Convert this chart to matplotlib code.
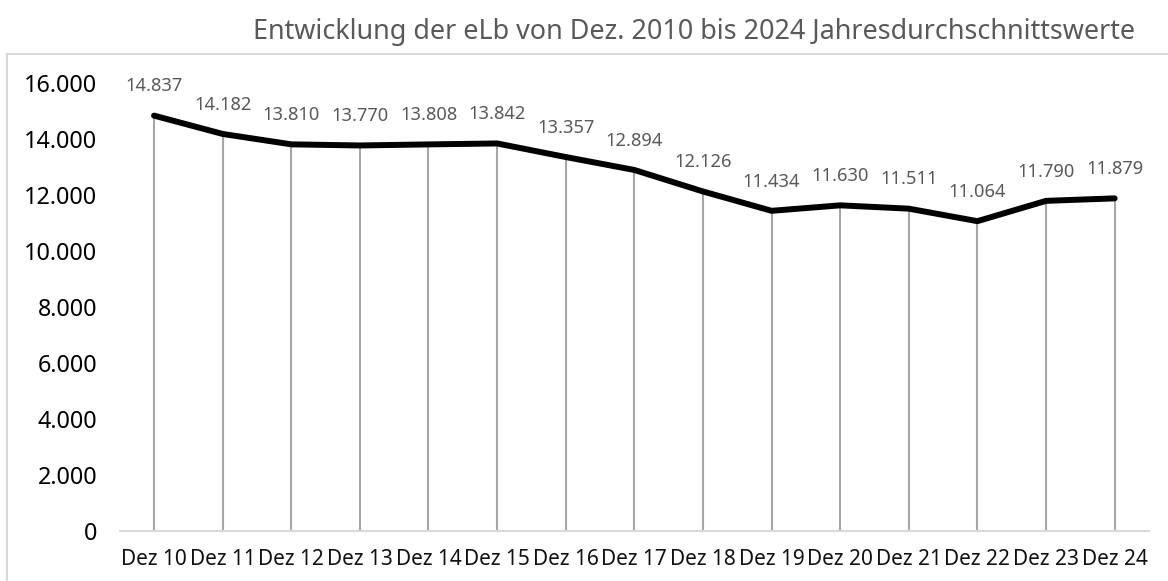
import matplotlib.pyplot as plt
from matplotlib.patches import Rectangle

labels = ["Dez 10", "Dez 11", "Dez 12", "Dez 13", "Dez 14", "Dez 15", "Dez 16", "Dez 17",
          "Dez 18", "Dez 19", "Dez 20", "Dez 21", "Dez 22", "Dez 23", "Dez 24"]
values = [14837, 14182, 13810, 13770, 13808, 13842, 13357, 12894,
          12126, 11434, 11630, 11511, 11064, 11790, 11879]
yticks = [0, 2000, 4000, 6000, 8000, 10000, 12000, 14000, 16000]

plt.rcParams['font.family'] = ['Noto Sans', 'DejaVu Sans']

fig = plt.figure(figsize=(11.68, 5.81), dpi=100)
ax = fig.add_axes([0.1025, 0.0866, 0.8812, 0.7704])

x = list(range(len(values)))
ax.vlines(x, 0, values, color='#a6a6a6', linewidth=1.5, zorder=1)
ax.plot(x, values, color='black', linewidth=4.3, solid_joinstyle='round',
        solid_capstyle='round', zorder=3)

for xi, v in zip(x, values):
    txt = f"{v:,}".replace(",", ".")
    ax.annotate(txt, (xi, v), xytext=(0, 21), textcoords='offset points',
                ha='center', va='center', fontsize=13.2, color='#595959')

ax.set_xlim(-0.5, len(values) - 0.5)
ax.set_ylim(0, 16000)
ax.set_xticks(x)
ax.set_xticklabels(labels, fontsize=15, color='#111111')
ax.set_yticks(yticks)
ax.set_yticklabels([f"{t:,}".replace(",", ".") for t in yticks], fontsize=16.8, color='black')
ax.tick_params(axis='both', length=0)
ax.tick_params(axis='x', pad=13)
ax.tick_params(axis='y', pad=16)

for s in ['top', 'right', 'left']:
    ax.spines[s].set_visible(False)
ax.spines['bottom'].set_color('#d9d9d9')
ax.spines['bottom'].set_linewidth(1.5)

fig.text(0.972, 0.945, "Entwicklung der eLb von Dez. 2010 bis 2024 Jahresdurchschnittswerte",
         ha='right', va='center', fontsize=19.4, color='#595959')

fig.patches.append(Rectangle((7 / 1168, -0.1), 1.2, 1 - 54 / 581 + 0.1,
                             transform=fig.transFigure, fill=False,
                             edgecolor='#d9d9d9', linewidth=1.5))

fig.savefig('out.png', dpi=100)
